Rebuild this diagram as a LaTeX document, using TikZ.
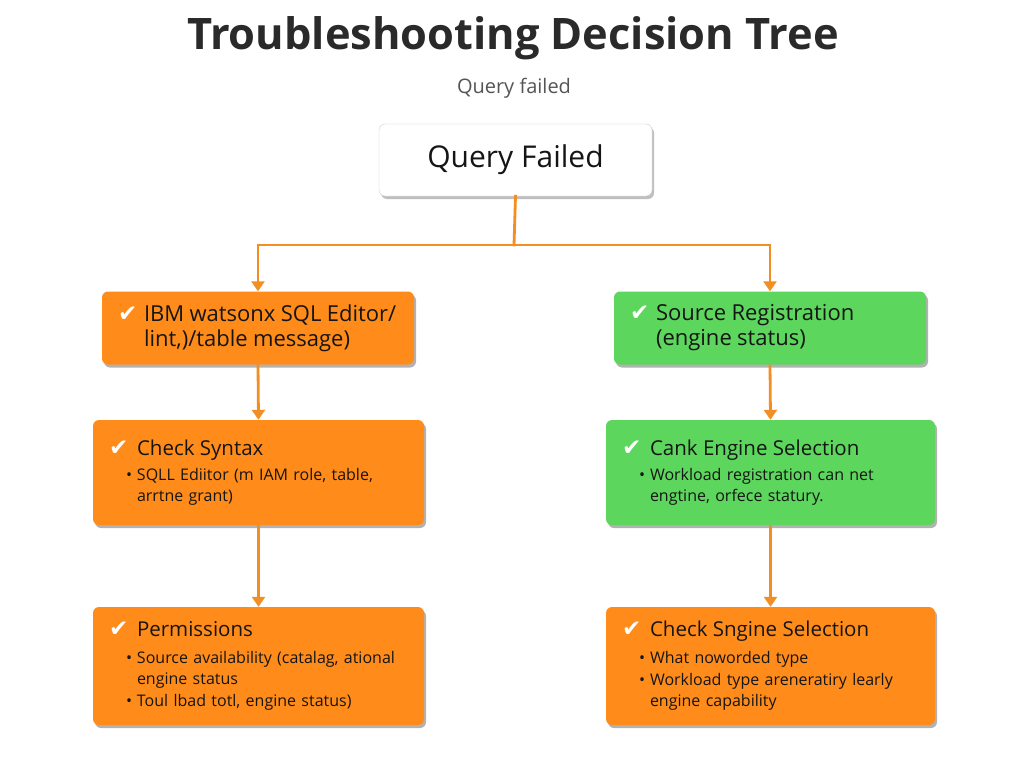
\documentclass[tikz,border=0pt]{standalone}
\usepackage{fontspec}
\setmainfont{Open Sans}
\newfontfamily\symf{DejaVu Sans}
\usetikzlibrary{arrows.meta,shadows}
\definecolor{org}{HTML}{FF8C1A}
\definecolor{grn}{HTML}{5CD65C}
\definecolor{conn}{HTML}{F38F22}
\definecolor{txt}{HTML}{151515}
\definecolor{ttl}{HTML}{2A2A2A}
\definecolor{sub}{HTML}{555555}
\newcommand{\ck}{{\color{white}\symf\fontsize{23}{23}\selectfont ✔}}
\newcommand{\hd}[1]{\mbox{\fontsize{20.5}{22}\selectfont\makebox[28pt][l]{\ck}#1}}
\newcommand{\hdb}[1]{\mbox{\fontsize{22}{22}\selectfont\makebox[26pt][l]{\ck}#1}}
\newcommand{\bl}[1]{\mbox{\hspace{17pt}\makebox[11pt][l]{•}#1}}
\newcommand{\ct}[1]{\mbox{\hspace{28pt}#1}}
\newcommand{\ctb}[1]{\mbox{\hspace{26pt}\fontsize{22}{22}\selectfont #1}}
\tikzset{
  box/.style={rounded corners=6pt, text=txt, align=left, inner xsep=16pt, inner ysep=0pt,
    font=\fontsize{16}{21}\selectfont,
    drop shadow={shadow xshift=2pt, shadow yshift=-3pt, opacity=.3, fill=black}},
  conline/.style={draw=conn, line width=2.8pt},
  arr/.style={conline, -{Triangle[length=10pt,width=13pt]}}
}
\begin{document}
\begin{tikzpicture}[x=1pt,y=-1pt]
\useasboundingbox[fill=white] (0,0) rectangle (1024,768);
\node[font=\fontsize{43.4}{48}\selectfont\bfseries, text=ttl] (title) at (513,38) {Troubleshooting Decision Tree};
\node[font=\fontsize{20}{22}\selectfont, text=sub] (subtitle) at (514,88) {Query failed};
\node[rounded corners=6pt, draw=black!20, fill=white, minimum width=273pt, minimum height=72pt,
  font=\fontsize{30}{32}\selectfont, text=txt,
  drop shadow={shadow xshift=2pt, shadow yshift=-3pt, opacity=.25, fill=black}] (q) at (515.5,160) {Query Failed};

\node[box, fill=org, text width=280pt, minimum height=73pt, font=\fontsize{16}{25}\selectfont] (l1) at (258,328)
  {\hdb{IBM watsonx SQL Editor/}\\ \ctb{lint,)/table message)}};
\node[box, fill=grn, text width=280pt, minimum height=73pt, font=\fontsize{16}{25}\selectfont] (r1) at (770,328)
  {\hdb{Source Registration}\\ \ctb{(engine status)}};

\node[box, fill=org, text width=299pt, minimum height=105pt] (l2) at (258.5,472.5)
  {\hd{Check Syntax}\\[4pt] \bl{SQLL Ediitor (m IAM role, table,}\\ \ct{arrtne grant)}};
\node[box, fill=grn, text width=297pt, minimum height=105pt] (r2) at (770.5,472.5)
  {\hd{Cank Engine Selection}\\[4pt] \bl{Workload registration can net}\\ \ct{engtine, orfece statury.}};

\node[box, fill=org, text width=299pt, minimum height=118pt] (l3) at (258.5,666)
  {\hd{Permissions}\\[6pt] \bl{Source availability (catalag, ational}\\ \ct{engine status}\\[1pt] \bl{Toul lbad totl, engine status)}};
\node[box, fill=org, text width=297pt, minimum height=118pt] (r3) at (770.5,666)
  {\hd{Check Sngine Selection}\\[6pt] \bl{What noworded type}\\[1pt] \bl{Workload type areneratiry learly}\\ \ct{engine capability}};

\coordinate (j) at (514,245);
\draw[conline, line cap=rect] (q.south) -- (j);
\draw[arr] (j) -| (l1.north);
\draw[arr] (j) -| (r1.north);
\draw[arr] (l1.south) -- (l2.north);
\draw[arr] (r1.south) -- (r2.north);
\draw[arr] (l2.south) -- (l3.north);
\draw[arr] (r2.south) -- (r3.north);
\end{tikzpicture}
\end{document}
